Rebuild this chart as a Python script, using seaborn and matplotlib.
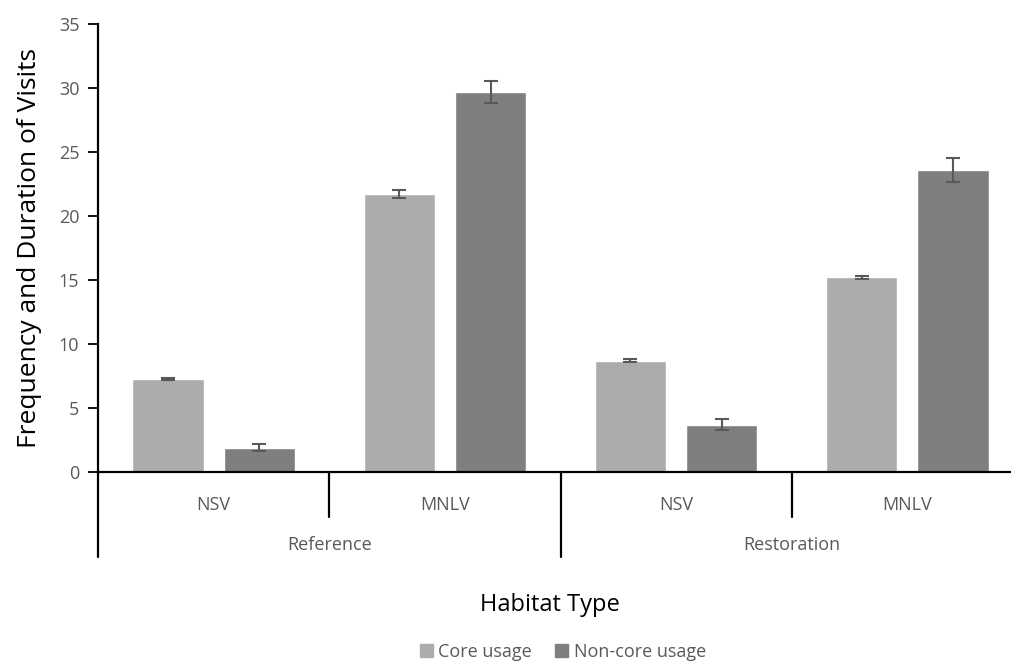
import pandas as pd
import matplotlib.pyplot as plt
import matplotlib.transforms as mtransforms
import seaborn as sns

# data
sites = ["Reference", "Reference", "Restoration", "Restoration"]
habitats = ["NSV", "MNLV", "NSV", "MNLV"]
core = [7.3, 21.7, 8.7, 15.2]
core_err = [0.08, 0.3, 0.1, 0.15]
noncore = [1.9, 29.7, 3.7, 23.6]
noncore_err = [0.25, 0.85, 0.45, 0.95]
series = ["Core usage", "Non-core usage"]
colors = ["#AEACAB", "#7F7F7F"]

cats = [f"{s}|{h}" for s, h in zip(sites, habitats)]
df = pd.DataFrame({
    "cat": cats * 2,
    "usage": [series[0]] * 4 + [series[1]] * 4,
    "value": core + noncore,
    "err": core_err + noncore_err,
})

sns.set_style("white")
plt.rcParams["font.family"] = ["Open Sans", "DejaVu Sans"]
grey = "#595959"

fig = plt.figure(figsize=(10.11, 6.61), dpi=100)
ax = fig.add_axes([98 / 1011, 1 - 472 / 661, 925 / 1011, 448 / 661])

sns.barplot(data=df, x="cat", y="value", hue="usage", order=cats,
            hue_order=series, palette=colors, width=0.79, gap=0.22,
            errorbar=None, saturation=1, legend=False, ax=ax)

# error bars at the bar centres seaborn placed
for patch, (_, row) in zip(ax.patches, df.iterrows()):
    xc = patch.get_x() + patch.get_width() / 2
    ax.errorbar(xc, patch.get_height(), yerr=row["err"], color=grey,
                capsize=5, capthick=1.5, elinewidth=1.5, fmt="none")

ax.set_ylim(0, 35)
ax.set_yticks(range(0, 36, 5))
ax.set_xlim(-0.5, len(cats) - 0.5)
ax.tick_params(axis="y", direction="out", length=7.5, width=1.3, color="black",
               labelsize=13, labelcolor=grey, pad=6, left=True)
ax.set_xticks(range(len(cats)))
ax.set_xticklabels(habitats)
ax.tick_params(axis="x", length=0, labelsize=13, labelcolor=grey, pad=17)
ax.set_xlabel("")
ax.set_ylabel("Frequency and Duration of Visits", fontsize=19, color="black",
              labelpad=12)
sns.despine(ax=ax, top=True, right=True)
for side in ["left", "bottom"]:
    ax.spines[side].set_color("black")
    ax.spines[side].set_linewidth(1.6)

# hierarchical category axis
trans = mtransforms.blended_transform_factory(ax.transData, ax.transAxes)
for i in range(len(cats) + 1):
    b = i - 0.5
    depth = -0.19 if i % 2 == 0 else -0.10
    ax.plot([b, b], [0, depth], color="black", lw=1.6, transform=trans,
            clip_on=False)
for s, x in [("Reference", 0.5), ("Restoration", 2.5)]:
    ax.text(x, -0.163, s, transform=trans, ha="center", va="center",
            fontsize=13, color=grey)

fig.text(550 / 1011, 1 - 605 / 661, "Habitat Type", ha="center",
         va="center", fontsize=17, color="black")

handles = [plt.Rectangle((0, 0), 1, 1, color=c) for c in colors]
fig.legend(handles, series, loc="center", bbox_to_anchor=(563 / 1011, 1 - 652 / 661),
           ncol=2, frameon=False, fontsize=13, labelcolor=grey,
           handlelength=0.7, handleheight=0.7, handletextpad=0.3,
           columnspacing=1.3)

fig.savefig("out.png", dpi=100)
plt.close(fig)
